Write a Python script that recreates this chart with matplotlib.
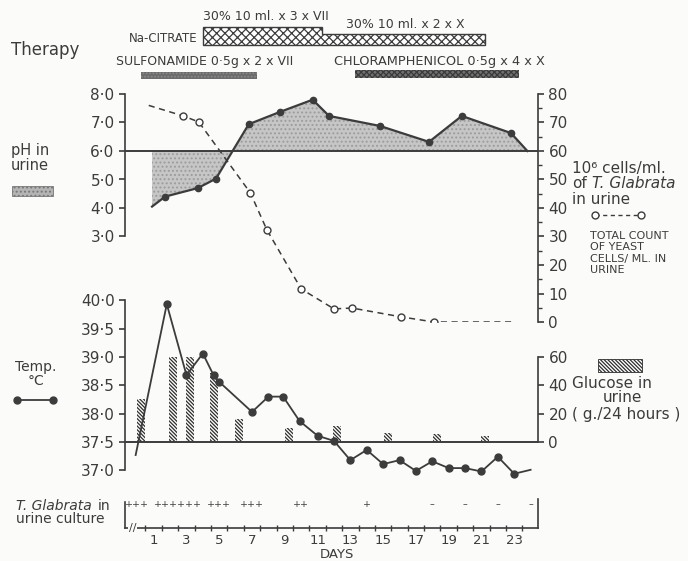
import numpy as np
import matplotlib
matplotlib.use("Agg")
import matplotlib.pyplot as plt
from matplotlib.patches import Rectangle
from matplotlib.lines import Line2D
from matplotlib.ticker import FuncFormatter, MultipleLocator, FixedLocator

plt.rcParams['font.family'] = ['DejaVu Sans']
plt.rcParams['hatch.linewidth'] = 0.9

INK = '#3c3c3c'

# ---- data, x in days ----
ph_days = [0.9, 1.7, 3.7, 4.8, 6.8, 8.7, 10.7, 11.7, 14.8, 17.8, 19.8, 22.8, 23.8]
ph_vals = [4.05, 4.4, 4.7, 5.03, 6.94, 7.37, 7.8, 7.23, 6.88, 6.32, 7.23, 6.63, 6.0]

yeast_days = [0.7, 2.8, 3.75, 6.9, 7.9, 10.0, 12.0, 13.1, 16.1, 18.1, 22.9]
yeast_counts = [76, 72.3, 70.2, 45.3, 32.4, 11.6, 4.6, 4.9, 1.8, 0, 0]

temp_days = [-0.1, 1.8, 3.0, 4.0, 4.65, 5.0, 7.0, 8.0, 8.9, 9.9, 11.0, 12.0,
             13.0, 14.0, 15.0, 16.0, 17.0, 18.0, 19.0, 20.0, 21.0, 22.0, 23.0, 24.0]
temp_vals = [37.27, 39.93, 38.68, 39.06, 38.68, 38.56, 38.03, 38.3, 38.3, 37.87, 37.61, 37.52,
             37.18, 37.36, 37.11, 37.18, 36.99, 37.16, 37.04, 37.04, 36.98, 37.24, 36.94, 37.01]

glucose_days = [0.25, 2.2, 3.2, 4.7, 6.2, 9.25, 12.2, 15.3, 18.3, 21.2]
glucose_g = [30, 60, 60, 49, 16, 10, 11, 6.5, 5.5, 4.5]

# days 2 and 3 are printed run together in the original
culture_days = [0, 2.5, 5, 7, 10, 14, 18, 20, 22, 24]
culture_res = ['+++', '++++++', '+++', '+++', '++', '+', '–', '–', '–', '–']

citrate_periods = [(4.0, 11.3), (11.3, 21.2)]
sulfonamide_period = (0.2, 7.3)
chloramphenicol_period = (13.3, 23.3)

day_labels = list(range(1, 24, 2))

XLIM = (-0.75, 24.45)
T_LIM = (36.83, 40.18)
G_PER_DEG = 40  # glucose scale: 20 g per 0.5 degC

W, H = 688, 561


def rect(x0, y0, x1, y1):
    return [x0 / W, 1 - y1 / H, (x1 - x0) / W, (y1 - y0) / H]


def ftext(x, y, s, **kw):
    kw.setdefault('color', INK)
    kw.setdefault('va', 'center')
    fig.text(x / W, 1 - y / H, s, **kw)


def dotfmt(v, pos):
    return f"{v:.1f}".replace('.', '·')


fig = plt.figure(figsize=(6.88, 5.61), dpi=100, facecolor='#fbfbf9')

# ---- therapy strip ----
ax_th = fig.add_axes(rect(125, 0, 538, 90))
ax_th.set_xlim(XLIM)
ax_th.set_ylim(90, 0)
ax_th.axis('off')
(c0, c1), (c2, c3) = citrate_periods
ax_th.fill([c0, c0, c1, c1, c3, c3], [45, 27, 27, 34, 34, 45], facecolor='white',
           edgecolor=INK, hatch='xxxx', lw=1.0)
ax_th.add_patch(Rectangle((sulfonamide_period[0], 71.5), sulfonamide_period[1] - sulfonamide_period[0], 7.5,
                          facecolor='#6c6c6c', edgecolor='#8a8a8a', hatch='.....', lw=0))
ax_th.add_patch(Rectangle((chloramphenicol_period[0], 70), chloramphenicol_period[1] - chloramphenicol_period[0], 8,
                          facecolor='#707070', edgecolor='#3a3a3a', hatch='xxxxxx', lw=0))

ftext(11, 50, 'Therapy', fontsize=12)
ftext(198, 38, 'Na-CITRATE', fontsize=8.5, ha='right')
ftext(266, 17, '30% 10 ml. x 3 x VII', fontsize=9, ha='center')
ftext(405, 25, '30% 10 ml. x 2 x X', fontsize=9, ha='center')
ftext(116, 62, 'SULFONAMIDE 0·5g x 2 x VII', fontsize=9)
ftext(334, 62, 'CHLORAMPHENICOL 0·5g x 4 x X', fontsize=9.3)

# ---- pH and yeast count ----
ax_ph = fig.add_axes(rect(125, 94, 538, 322))
ax_ph.set_xlim(XLIM)
ax_ph.set_ylim(0, 8)
ax_ph.patch.set_visible(False)
ax_ph.axhline(6, color=INK, lw=1.4, zorder=3)
ax_ph.fill_between(ph_days, ph_vals, 6, facecolor='#c6c6c6', edgecolor='#9c9c9c', hatch='....', lw=0, zorder=1)
ax_ph.plot(ph_days, ph_vals, color=INK, lw=1.6, marker='o', ms=4.5, markevery=slice(1, -1), zorder=4)
for s in ['top', 'right', 'bottom']:
    ax_ph.spines[s].set_visible(False)
ax_ph.spines['left'].set_bounds(3, 8)
ax_ph.spines['left'].set_color(INK)
ax_ph.spines['left'].set_linewidth(1.2)
ax_ph.set_yticks(np.arange(3, 9, 1))
ax_ph.yaxis.set_major_formatter(FuncFormatter(dotfmt))
ax_ph.tick_params(axis='y', colors=INK, labelsize=11, length=4, width=1.2)
ax_ph.set_xticks([])

ax_cnt = ax_ph.twinx()
ax_cnt.set_ylim(0, 80)
ax_cnt.plot(yeast_days, yeast_counts, color=INK, lw=1.1, dashes=(4, 3), marker='o', ms=5,
            mfc='white', mec=INK, mew=1.0, markevery=slice(1, -1))
for s in ['top', 'left', 'bottom']:
    ax_cnt.spines[s].set_visible(False)
ax_cnt.spines['right'].set_bounds(0, 80)
ax_cnt.spines['right'].set_color(INK)
ax_cnt.spines['right'].set_linewidth(1.2)
ax_cnt.yaxis.set_major_locator(MultipleLocator(10))
ax_cnt.yaxis.set_minor_locator(MultipleLocator(5))
ax_cnt.tick_params(axis='y', which='major', colors=INK, labelsize=11, length=4, width=1.2)
ax_cnt.tick_params(axis='y', which='minor', colors=INK, length=3, width=1.0)
ax_cnt.set_xticks([])

# ---- temperature and glucose ----
ax_t = fig.add_axes(rect(125, 290, 538, 480))
ax_t.set_xlim(XLIM)
ax_t.set_ylim(T_LIM)
ax_g = ax_t.twinx()
ax_g.set_ylim([(t - 37.5) * G_PER_DEG for t in T_LIM])
ax_t.set_zorder(ax_g.get_zorder() + 1)
ax_t.patch.set_visible(False)

ax_g.bar(glucose_days, glucose_g, width=0.5, facecolor='none', edgecolor='#2e2e2e',
         hatch='\\' * 9, lw=0)
ax_t.axhline(37.5, color=INK, lw=1.4)
ax_t.plot(temp_days, temp_vals, color=INK, lw=1.3, marker='o', ms=5, markevery=slice(1, -1))

for s in ['top', 'right', 'bottom']:
    ax_t.spines[s].set_visible(False)
ax_t.spines['left'].set_bounds(37.0, 40.0)
ax_t.spines['left'].set_color(INK)
ax_t.spines['left'].set_linewidth(1.2)
ax_t.set_yticks(np.arange(37.0, 40.01, 0.5))
ax_t.yaxis.set_major_formatter(FuncFormatter(dotfmt))
ax_t.tick_params(axis='y', colors=INK, labelsize=11, length=4, width=1.2)
ax_t.set_xticks([])

for s in ['top', 'left', 'bottom']:
    ax_g.spines[s].set_visible(False)
ax_g.spines['right'].set_bounds(0, 60)
ax_g.spines['right'].set_color(INK)
ax_g.spines['right'].set_linewidth(1.2)
ax_g.set_yticks([0, 20, 40, 60])
ax_g.tick_params(axis='y', colors=INK, labelsize=11, length=4, width=1.2)
ax_g.set_xticks([])

# ---- urine culture row and day axis ----
ax_c = fig.add_axes(rect(125, 499, 538, 528))
ax_c.set_xlim(XLIM)
ax_c.set_ylim(0, 1)
ax_c.patch.set_visible(False)
for d, r in zip(culture_days, culture_res):
    ax_c.text(d, 0.82, r, ha='center', va='center', fontsize=6.8, color=INK)
ax_c.spines['top'].set_visible(False)
ax_c.spines['left'].set_bounds(0, 0.9)
for s in ['left', 'right', 'bottom']:
    ax_c.spines[s].set_color(INK)
    ax_c.spines[s].set_linewidth(1.2)
ax_c.set_yticks([])
ax_c.xaxis.set_major_locator(FixedLocator(day_labels))
ax_c.xaxis.set_minor_locator(FixedLocator(np.arange(0.5, 24, 1)))
ax_c.tick_params(axis='x', which='major', length=0, pad=4, labelsize=9.5, colors=INK)
ax_c.tick_params(axis='x', which='minor', length=4, width=1.0, direction='inout', colors=INK)
ax_c.text(-0.3, 0, '//', ha='center', va='center', fontsize=8, color=INK,
          bbox=dict(facecolor='#fbfbf9', edgecolor='none', pad=0.3))
ftext(337, 555, 'DAYS', fontsize=9.5, ha='center')

# ---- left side labels ----
ftext(11, 158, 'pH in\nurine', fontsize=10.5, linespacing=1.0)
fig.add_artist(Rectangle((12 / W, 1 - 196 / H), 41 / W, 10 / H, transform=fig.transFigure,
                         facecolor='#b4b4b4', edgecolor='#777777', hatch='....', lw=0.6))
ftext(36, 374, 'Temp.\n°C', fontsize=10, ha='center', linespacing=1.0)
fig.add_artist(Line2D([17 / W, 53 / W], [1 - 400 / H, 1 - 400 / H], transform=fig.transFigure,
                      color=INK, lw=1.3, marker='o', ms=5))
ftext(16, 506, 'T. Glabrata', fontsize=10, style='italic')
ftext(98, 506, 'in', fontsize=10)
ftext(16, 519, 'urine culture', fontsize=10)

# ---- right side labels ----
ftext(572, 168, '10⁶ cells/ml.', fontsize=11)
ftext(572, 184, 'of', fontsize=11)
ftext(592, 184, 'T. Glabrata', fontsize=11, style='italic')
ftext(572, 199, 'in urine', fontsize=11)
fig.add_artist(Line2D([595 / W, 641 / W], [1 - 215 / H, 1 - 215 / H], transform=fig.transFigure,
                      color=INK, lw=1.0, dashes=(3, 2.5), marker='o', ms=5, mfc='white', mec=INK))
ftext(590, 253, 'TOTAL COUNT\nOF YEAST\nCELLS/ ML. IN\nURINE', fontsize=8, linespacing=1.15)
fig.add_artist(Rectangle((598 / W, 1 - 372 / H), 44 / W, 13 / H, transform=fig.transFigure,
                         facecolor='white', edgecolor='#2e2e2e', hatch='\\' * 9, lw=0.6))
ftext(572, 383, 'Glucose in', fontsize=11)
ftext(622, 398, 'urine', fontsize=11, ha='center')
ftext(572, 415, '( g./24 hours )', fontsize=11)

fig.savefig('out.png', dpi=100, facecolor=fig.get_facecolor())
